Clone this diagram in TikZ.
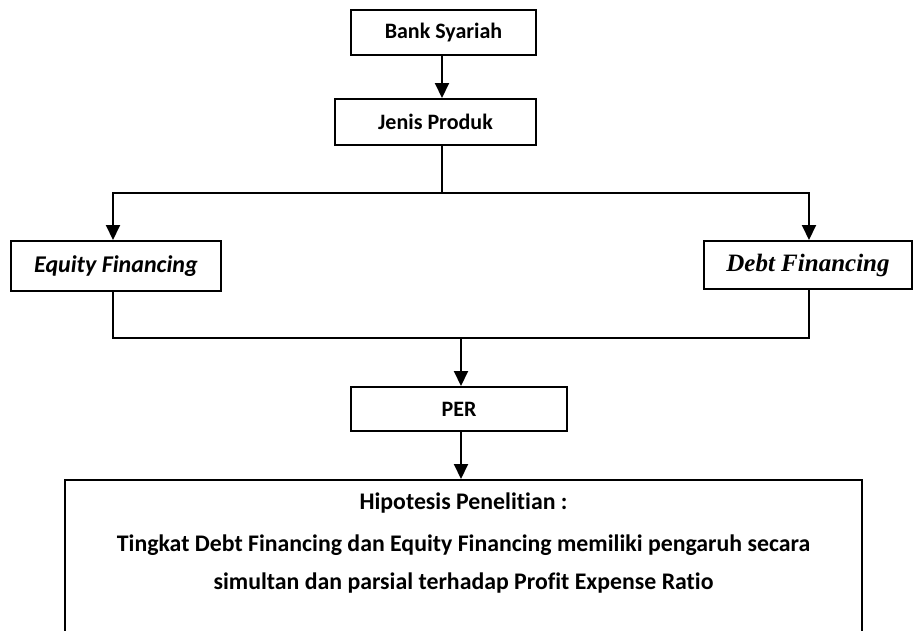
\documentclass[tikz,border=0pt]{standalone}
\usepackage{fontspec}
\setmainfont{Carlito}[Ligatures=NoCommon]
\newfontfamily\timesfont{Liberation Serif}
\usetikzlibrary{shapes,arrows.meta,calc,positioning}
\newcommand\natspace{\spaceskip\fontdimen2\font\relax}
\tikzstyle{block} = [rectangle, draw, line width=2pt, inner sep=0pt,
    text centered, font=\fontsize{22}{25}\selectfont\bfseries]
\tikzstyle{hypbox} = [rectangle, draw, line width=2pt, minimum width=797pt,
    text width=780pt, align=center, inner ysep=13pt,
    font=\fontsize{23.8}{38}\selectfont\bfseries]
\tikzstyle{line} = [draw, line width=2pt, -{Triangle[length=15pt,width=14pt]}]
\tikzstyle{link} = [draw, line width=2pt]

\begin{document}
\begin{tikzpicture}[node distance = 2cm, auto]
    \useasboundingbox (0,0) rectangle (914pt,-630pt);
    % Place nodes
    \node [block, minimum width=185pt, minimum height=45pt] (bank) at (443.5pt,-32.5pt) {Bank Syariah};
    \node [block, below of=bank, node distance=89.5pt, xshift=-8pt, minimum width=201pt, minimum height=46pt] (jenis) {Jenis Produk};
    \node [block, minimum width=210pt, minimum height=50pt, font=\fontsize{24}{28}\selectfont\bfseries\itshape] (equity) at (116pt,-266pt) {Equity Financing};
    \node [block, minimum width=208pt, minimum height=48pt, font=\fontsize{25}{28}\selectfont\timesfont\bfseries\itshape] (debt) at (808pt,-265pt) {Debt Financing};
    \node [block, minimum width=216pt, minimum height=44pt] (per) at (459pt,-409pt) {PER};
    \node [hypbox, anchor=north] (hyp) at (463.5pt,-479pt) {\natspace Hipotesis Penelitian :\\[4pt]
        Tingkat Debt Financing dan Equity Financing memiliki pengaruh secara\\
        simultan dan parsial terhadap Profit Expense Ratio\\[80pt]\mbox{}};
    \coordinate (fork) at (442pt,-192.7pt);
    \coordinate (join) at (461pt,-338pt);
    % Draw edges
    \path [line] ([xshift=-1.5pt]bank.south) -- ([xshift=-1.5pt]bank.south |- jenis.north);
    \path [link] ([xshift=6.5pt]jenis.south) -- (fork);
    \path [line] (fork) -| ([xshift=-3pt]equity.north);
    \path [line] (fork) -| ([xshift=1pt]debt.north);
    \path [link] ([xshift=-3pt]equity.south) |- (join);
    \path [link] ([xshift=1pt]debt.south) |- (join);
    \path [line] (join) -- (join |- per.north);
    \path [line] ([xshift=2pt]per.south) -- ([xshift=2pt]per.south |- hyp.north);
\end{tikzpicture}
\end{document}
